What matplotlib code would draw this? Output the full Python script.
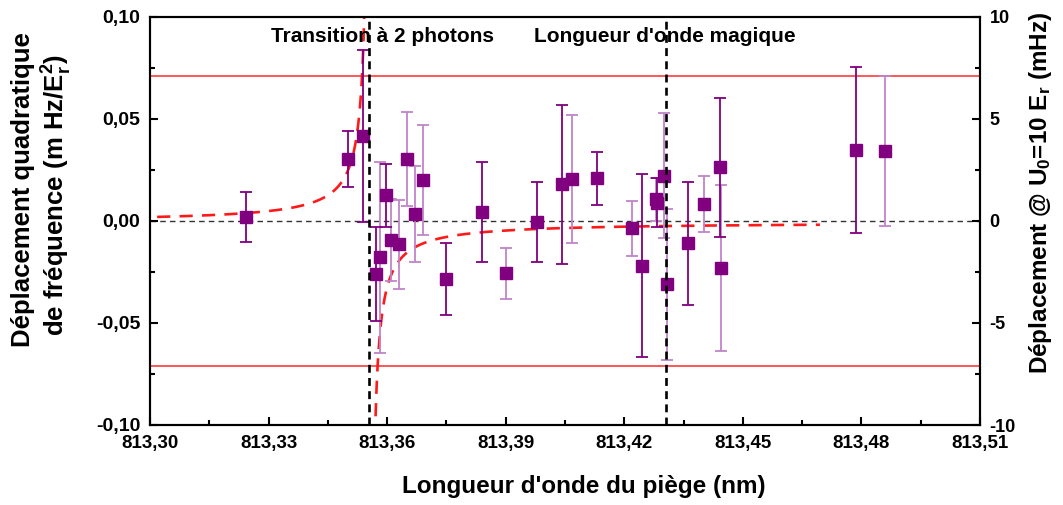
import numpy as np
import matplotlib
matplotlib.use("Agg")
import matplotlib.pyplot as plt
from matplotlib.ticker import MultipleLocator, FuncFormatter

plt.rcParams['font.family'] = ['Liberation Sans', 'DejaVu Sans']
plt.rcParams['font.weight'] = 'bold'
plt.rcParams['mathtext.fontset'] = 'custom'
plt.rcParams['mathtext.rm'] = 'Liberation Sans:bold'
plt.rcParams['mathtext.it'] = 'Liberation Sans:bold'
plt.rcParams['mathtext.bf'] = 'Liberation Sans:bold'

# ---- data: series with dark error bars ----
wl_a = [813.3242, 813.3500, 813.3538, 813.3571, 813.3596, 813.3749, 813.3839,
        813.3980, 813.4043, 813.4130, 813.4246, 813.4283, 813.4360, 813.4443, 813.4787]
shift_a = [0.0020, 0.0304, 0.0416, -0.0260, 0.0126, -0.0284, 0.0043,
           -0.0004, 0.0181, 0.0209, -0.0219, 0.0090, -0.0109, 0.0263, 0.0348]
err_a = [0.0121, 0.0138, 0.0422, 0.0229, 0.0155, 0.0178, 0.0245,
         0.0197, 0.0390, 0.0129, 0.0449, 0.0120, 0.0302, 0.0339, 0.0409]

# ---- data: series with light error bars ----
wl_b = [813.3583, 813.3610, 813.3630, 813.3651, 813.3671, 813.3690, 813.3901,
        813.4068, 813.4220, 813.4280, 813.4301, 813.4308, 813.4401, 813.4444, 813.4859]
shift_b = [-0.0178, -0.0093, -0.0113, 0.0304, 0.0033, 0.0201, -0.0255,
           0.0207, -0.0036, 0.0106, 0.0222, -0.0310, 0.0083, -0.0230, 0.0343]
err_b = [0.0467, 0.0201, 0.0218, 0.0230, 0.0235, 0.0269, 0.0125,
         0.0313, 0.0134, 0.0105, 0.0307, 0.0370, 0.0138, 0.0407, 0.0369]

# ---- model & reference lines ----
two_photon_wl = 813.3555
magic_wl = 813.4306
fit_amp = 0.00014
fit_x0 = 813.3556
fit_offset = -0.0006
fit_range = (813.3018, 813.4695)
limit = 0.071

xticks = [813.30, 813.33, 813.36, 813.39, 813.42, 813.45, 813.48, 813.51]

fig = plt.figure(figsize=(10.63, 5.05), dpi=100)
ax = fig.add_axes([150/1063, 1-425/505, 830/1063, 408/505])

DARK = '#800080'
LIGHT = '#c083c8'

ax.axhline(0, color='#333333', lw=1.0, dashes=(4, 3), zorder=1)
ax.axhline(limit, color='#ff2a2a', lw=1.1, zorder=1)
ax.axhline(-limit, color='#ff2a2a', lw=1.1, zorder=1)

# model curve (two branches around the asymptote)
xl = np.linspace(fit_range[0], fit_x0 - 0.0007, 400)
xr = np.linspace(fit_x0 + 0.0007, fit_range[1], 600)
for xs in (xl, xr):
    ax.plot(xs, fit_offset - fit_amp / (xs - fit_x0), color='#ff1a1a', lw=1.9,
            dashes=(5, 3.5), zorder=2)

ax.axvline(two_photon_wl, color='k', lw=1.9, dashes=(3, 2), zorder=4)
ax.axvline(magic_wl, color='k', lw=1.9, dashes=(3, 2), zorder=4)

ax.errorbar(wl_b, shift_b, yerr=err_b, fmt='s', ms=8.5, mfc=DARK, mec=DARK,
            ecolor=LIGHT, elinewidth=1.3, capsize=4, capthick=1.3, zorder=3)
ax.errorbar(wl_a, shift_a, yerr=err_a, fmt='s', ms=8.5, mfc=DARK, mec=DARK,
            ecolor=DARK, elinewidth=1.3, capsize=4, capthick=1.3, zorder=3)

ax.text(813.3589, 0.0905, "Transition à 2 photons", ha='center', va='center',
        fontsize=15, fontweight='bold', zorder=5)
ax.text(813.4303, 0.0905, "Longueur d'onde magique", ha='center', va='center',
        fontsize=15, fontweight='bold', zorder=5)

ax.set_xlim(813.30, 813.51)
ax.set_ylim(-0.10, 0.10)
ax.set_xticks(xticks)
ax.xaxis.set_minor_locator(MultipleLocator(0.015))
ax.yaxis.set_major_locator(MultipleLocator(0.05))
ax.yaxis.set_minor_locator(MultipleLocator(0.025))
ax.xaxis.set_major_formatter(FuncFormatter(lambda v, p: f"{v:.2f}".replace('.', ',')))
ax.yaxis.set_major_formatter(FuncFormatter(lambda v, p: f"{v:.2f}".replace('.', ',').replace('-0,00', '0,00')))

for s in ax.spines.values():
    s.set_linewidth(1.5)
ax.tick_params(axis='both', which='both', direction='in', top=False, right=False, width=1.5)
ax.tick_params(axis='both', which='major', length=6)
ax.tick_params(axis='both', which='minor', length=3.5)
ax.tick_params(axis='x', labelsize=13.5, pad=7)
ax.tick_params(axis='y', labelsize=14, pad=7)
for lab in ax.get_xticklabels() + ax.get_yticklabels():
    lab.set_fontweight('bold')

ax2 = ax.twinx()
ax2.set_ylim(-10, 10)
ax2.yaxis.set_major_locator(MultipleLocator(5))
ax2.yaxis.set_minor_locator(MultipleLocator(2.5))
ax2.yaxis.set_major_formatter(FuncFormatter(lambda v, p: f"{v:.0f}"))
ax2.tick_params(axis='y', which='both', direction='in', width=1.5, labelsize=13, pad=7)
ax2.tick_params(axis='y', which='major', length=6)
ax2.tick_params(axis='y', which='minor', length=3.5)
for s in ax2.spines.values():
    s.set_linewidth(1.5)
for lab in ax2.get_yticklabels():
    lab.set_fontweight('bold')

fig.text(584/1063, 1-486/505, "Longueur d'onde du piège (nm)", ha='center', va='center',
         fontsize=17.5, fontweight='bold')
fig.text(23/1063, 1-190/505, "Déplacement quadratique", ha='center', va='center',
         rotation=90, fontsize=18.5, fontweight='bold')
fig.text(57/1063, 1-195/505, r"de fréquence (m Hz/E$^{2}_{r}$)", ha='center', va='center',
         rotation=90, fontsize=18.5, fontweight='bold')
fig.text(1040/1063, 1-193/505, r"Déplacement @ U$_{0}$=10 E$_{r}$ (mHz)", ha='center', va='center',
         rotation=90, fontsize=17.5, fontweight='bold')

fig.savefig("out.png", dpi=100)
